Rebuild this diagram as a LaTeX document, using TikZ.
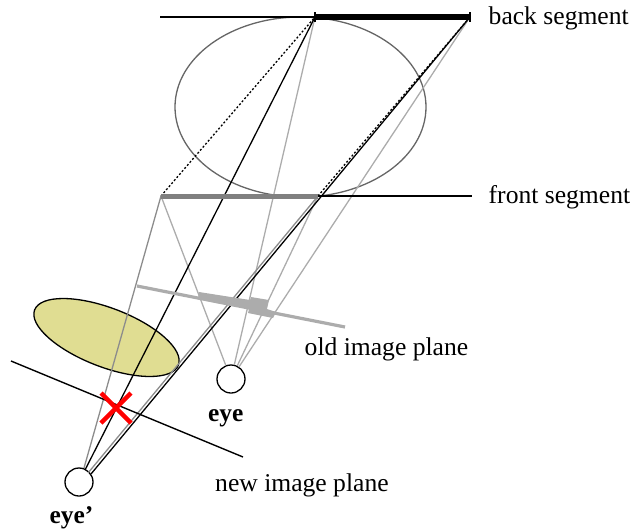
\documentclass[tikz,border=0pt]{standalone}
\usepackage{fontspec}
\setmainfont{Liberation Serif}
\usetikzlibrary{shapes.geometric}
\definecolor{eyelens}{HTML}{E0DD92}
\tikzset{
    eyecirc/.style={circle, draw=black, fill=white, line width=1.3pt, minimum size=28pt, inner sep=0pt},
    lbl/.style={font=\fontsize{25.6}{28}\selectfont, anchor=base west, inner sep=0pt},
    eyelbl/.style={font=\fontsize{25.4}{28}\selectfont\bfseries, anchor=base west, inner sep=0pt},
    ray/.style={line width=1.3pt, gray!90},
    oldray/.style={line width=1.3pt, gray!65},
    blackray/.style={line width=1.3pt, black},
}
\begin{document}
\begin{tikzpicture}[x=1pt, y=-1pt]
    \useasboundingbox (0, 0) rectangle (632, 531);
    % Points of both segments:
    \coordinate (B1) at (315, 17);
    \coordinate (B2) at (470, 17);
    \coordinate (F1) at (161, 196);
    \coordinate (F2) at (318, 196);
    \coordinate (BL) at (160, 17);
    \coordinate (FR) at (472, 196);
    % Ellipses:
    \node[ellipse, draw=black!60, line width=1.3pt, minimum width=251pt, minimum height=180pt, inner sep=0pt] (occluder) at (300.5, 107) {};
    \draw[line width=1.3pt, black, fill=eyelens, rotate around={-21:(106.5, 337.5)}] (106.5, 337.5) ellipse (77pt and 29.5pt);
    % Eyes:
    \node[eyecirc] (eye) at (231, 379) {};
    \node[eyecirc] (eyeB) at (79, 482) {};
    % Rays from the old eye:
    \foreach \target in {F1, F2, B1, B2}
        \draw[oldray] (eye) -- (\target);
    % Rays from the new eye:
    \coordinate (eyeBa) at (84, 468);
    \coordinate (eyeBb) at (85, 470);
    \coordinate (eyeBc) at (88, 473);
    \coordinate (eyeBd) at (91, 474);
    \draw[ray] (eyeBa) -- (F1);
    \draw[ray] (eyeBc) -- (F2);
    \draw[blackray] (eyeBb) -- (B1);
    \draw[blackray] (eyeBd) -- (B2);
    \draw[blackray, dash pattern=on 2pt off 2pt] (F1) -- (B1);
    \draw[blackray, dash pattern=on 2pt off 2pt] (F2) -- (B2);
    % Segments:
    \draw[line width=1.4pt] (BL) -- (B1);
    \draw[line width=6pt] (B1) -- (B2);
    \draw[line width=1.3pt] (315, 12) -- (315, 22);
    \draw[line width=1.3pt] (470, 12) -- (470, 22);
    \draw[line width=5pt, black!50] (F1) -- (F2);
    \draw[line width=1.4pt] (F2) -- (FR);
    % Image planes:
    \coordinate (oldA) at (137, 286);
    \coordinate (oldB) at (345, 327);
    \coordinate (newA) at (11, 361);
    \coordinate (newB) at (243, 457);
    \draw[line width=3.2pt, gray!65] (oldA) -- (oldB);
    \fill[gray!65] (199, 292) -- (250, 300) -- (251, 297) -- (269, 300) -- (267, 309) -- (276, 312) -- (273, 318) -- (248, 313) -- (249, 309) -- (198, 299) -- cycle;
    \draw[line width=1.4pt] (newA) -- (newB);
    % Red cross:
    \draw[line width=4.5pt, red] (101, 393) -- (131, 423);
    \draw[line width=4.5pt, red] (131, 393) -- (101, 423);
    % Labels:
    \node[lbl] (lblback) at (488.5, 24) {back segment};
    \node[lbl] (lblfront) at (488.5, 203) {front segment};
    \node[lbl] (lblold) at (304.5, 355) {old image plane};
    \node[lbl] (lblnew) at (215, 491) {new image plane};
    \node[eyelbl] (lbleye) at (208, 421.5) {eye};
    \node[eyelbl] (lbleyeB) at (49.5, 523) {eye’};
\end{tikzpicture}
\end{document}
